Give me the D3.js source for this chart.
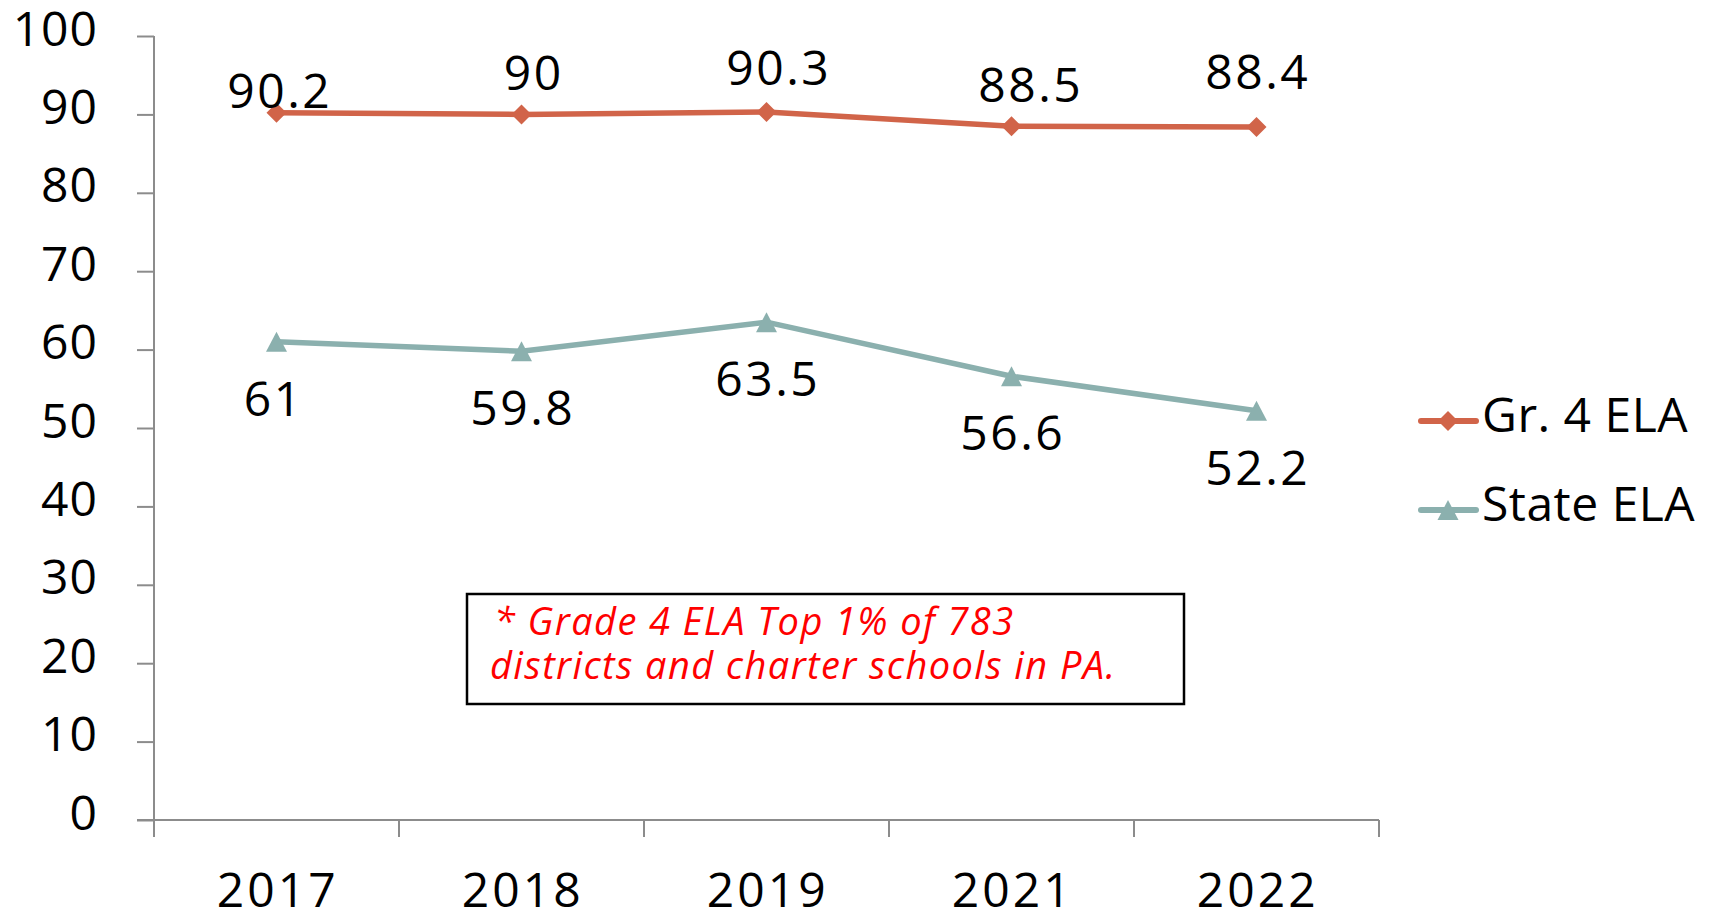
<!DOCTYPE html>
<html>
<head>
<meta charset="utf-8">
<script src="https://cdn.jsdelivr.net/npm/d3@7"></script>
<style>
  html, body { margin: 0; padding: 0; background: #fff; }
  svg { display: block; }
  text { font-family: "Open Sans", "Noto Sans", sans-serif; fill: #000; }
</style>
</head>
<body>
<svg id="chart" width="1711" height="912"></svg>
<script>
// ---- data ----
const categories = ["2017", "2018", "2019", "2021", "2022"];
const gradeELA = [90.2, 90, 90.3, 88.5, 88.4];
const stateELA = [61, 59.8, 63.5, 56.6, 52.2];
const yTicks = [0, 10, 20, 30, 40, 50, 60, 70, 80, 90, 100];
const seriesNames = ["Gr. 4 ELA", "State ELA"];
const noteLines = ["* Grade 4 ELA Top 1% of 783", "districts and charter schools in PA."];

// label nudges (manual label placement, like the original)
const gradeLabelNudge = [[2, -5], [11, -24], [11, -27], [18, -24], [0, -38]];
const stateLabelNudge = [[-4, 74], [0, 74], [0, 74], [0, 74], [0, 74]];

const orange = "#D16449";
const teal = "#8BB0AE";
const axisGray = "#8C8C8C";
const numSpacing = 2.5;

const svg = d3.select("#chart");
const plotLeft = 154, plotRight = 1379, plotTop = 36, plotBottom = 820;

const x = d3.scaleBand().domain(categories).range([plotLeft, plotRight]).padding(0);
const y = d3.scaleLinear().domain([0, 100]).range([plotBottom, plotTop]);
const cx = c => x(c) + x.bandwidth() / 2;

// ---- y axis ----
const yAxis = d3.axisLeft(y).tickValues(yTicks).tickSize(17).tickPadding(40).tickFormat(d3.format("d"));
const gy = svg.append("g").attr("transform", `translate(${plotLeft},0)`).call(yAxis);
gy.select(".domain").remove();
gy.selectAll(".tick line").attr("stroke", axisGray).attr("stroke-width", 2);
gy.selectAll(".tick text").attr("font-size", 48).attr("dy", "0.19em").attr("fill", "#000")
  .attr("letter-spacing", 1).attr("dx", 1)
  .style("font-family", '"Open Sans", sans-serif');
svg.append("line").attr("x1", plotLeft).attr("x2", plotLeft).attr("y1", y(100)).attr("y2", plotBottom + 17)
  .attr("stroke", axisGray).attr("stroke-width", 2);

// ---- x axis ----
svg.append("line").attr("x1", plotLeft - 17).attr("x2", plotRight).attr("y1", plotBottom).attr("y2", plotBottom)
  .attr("stroke", axisGray).attr("stroke-width", 2);
const edges = categories.map(c => x(c)).concat([x.range()[1]]);
svg.append("g").selectAll("line").data(edges).join("line")
  .attr("x1", d => d).attr("x2", d => d).attr("y1", plotBottom).attr("y2", plotBottom + 17)
  .attr("stroke", axisGray).attr("stroke-width", 2);
svg.append("g").selectAll("text").data(categories).join("text")
  .attr("x", d => cx(d) + numSpacing / 2).attr("y", 907).attr("text-anchor", "middle").attr("font-size", 48)
  .attr("letter-spacing", numSpacing + 0.5)
  .text(d => d);

// ---- symbols ----
function diamondPath(r) {
  return `M0,${-r}L${r},0L0,${r}L${-r},0Z`;
}
function trianglePath(w, h) {
  return `M0,${-h / 2}L${w / 2},${h / 2}L${-w / 2},${h / 2}Z`;
}

const line = d3.line().x(d => cx(d.c)).y(d => y(d.v));
const gradeData = categories.map((c, i) => ({ c, v: gradeELA[i] }));
const stateData = categories.map((c, i) => ({ c, v: stateELA[i] }));

// State line
svg.append("path").datum(stateData).attr("d", line).attr("fill", "none")
  .attr("stroke", teal).attr("stroke-width", 5.5).attr("stroke-linejoin", "round");
svg.append("g").selectAll("path").data(stateData).join("path")
  .attr("d", trianglePath(21, 20)).attr("fill", teal)
  .attr("transform", d => `translate(${cx(d.c)},${y(d.v)})`);

// Grade line
svg.append("path").datum(gradeData).attr("d", line).attr("fill", "none")
  .attr("stroke", orange).attr("stroke-width", 5.5).attr("stroke-linejoin", "round");
svg.append("g").selectAll("path").data(gradeData).join("path")
  .attr("d", diamondPath(10)).attr("fill", orange)
  .attr("transform", d => `translate(${cx(d.c)},${y(d.v)})`);

// data labels
svg.append("g").selectAll("text").data(gradeData).join("text")
  .attr("x", (d, i) => cx(d.c) + gradeLabelNudge[i][0] + numSpacing / 2)
  .attr("y", (d, i) => y(d.v) + gradeLabelNudge[i][1])
  .attr("letter-spacing", numSpacing)
  .attr("text-anchor", "middle").attr("font-size", 48).text(d => d.v);
svg.append("g").selectAll("text").data(stateData).join("text")
  .attr("x", (d, i) => cx(d.c) + stateLabelNudge[i][0] + numSpacing / 2)
  .attr("y", (d, i) => y(d.v) + stateLabelNudge[i][1])
  .attr("letter-spacing", numSpacing)
  .attr("text-anchor", "middle").attr("font-size", 48).text(d => d.v);

// ---- legend ----
const legendColors = [orange, teal];
const legendY = [421, 510];
const lg = svg.append("g");
seriesNames.forEach((name, i) => {
  lg.append("line").attr("x1", 1421).attr("x2", 1476).attr("y1", legendY[i]).attr("y2", legendY[i])
    .attr("stroke", legendColors[i]).attr("stroke-width", 6).attr("stroke-linecap", "round");
  lg.append("path").attr("d", i === 0 ? diamondPath(10) : trianglePath(21, 20))
    .attr("fill", legendColors[i]).attr("transform", `translate(1448,${legendY[i]})`);
  lg.append("text").attr("x", 1482).attr("y", legendY[i] + 11).attr("font-size", 48)
    .attr("letter-spacing", 0.5).text(name);
});

// ---- annotation box ----
svg.append("rect").attr("x", 467).attr("y", 594).attr("width", 717).attr("height", 110)
  .attr("fill", "#fff").attr("stroke", "#000").attr("stroke-width", 2.5);
svg.append("g").selectAll("text").data(noteLines).join("text")
  .attr("x", (d, i) => i === 0 ? 494 : 490).attr("y", (d, i) => 635 + i * 44)
  .attr("font-size", 38).attr("font-style", "italic").attr("letter-spacing", 1.4).style("fill", "#FF0000")
  .text(d => d);
</script>
</body>
</html>
